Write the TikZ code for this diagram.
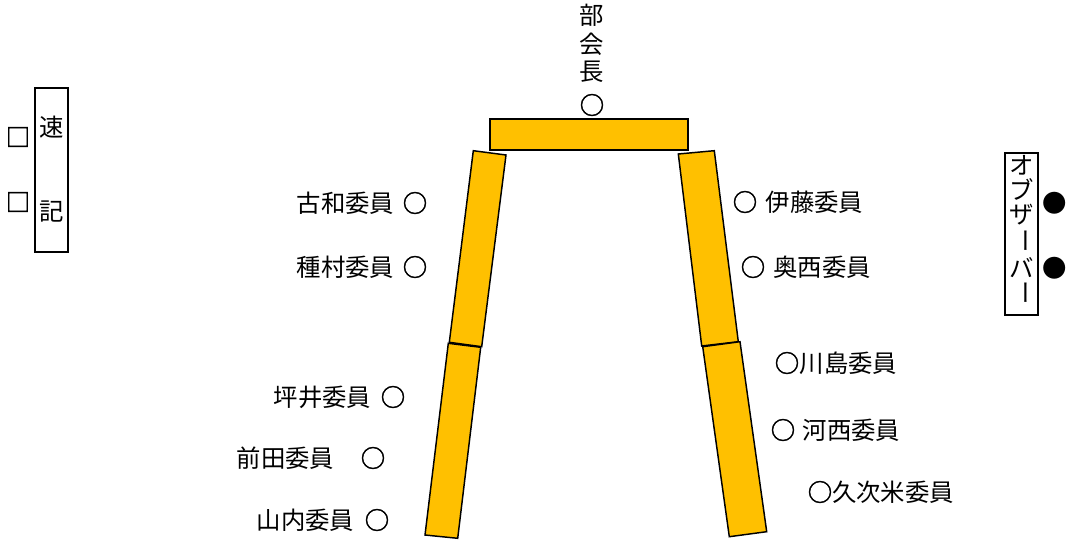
\documentclass[tikz,border=0pt]{standalone}
\usepackage{fontspec}
\setmainfont{Noto Sans CJK JP}
\newfontfamily\symfont{Noto Sans CJK JP}[FakeBold=2]
\definecolor{gold}{HTML}{FFC000}
\tikzset{
  bar/.style={fill=gold,draw=black,line width=1.1pt,line join=miter},
  frame/.style={draw=black,line width=1.4pt},
  lbl/.style={inner sep=0pt,font=\fontsize{18.3}{22}\selectfont},
  sym/.style={inner sep=0pt,font=\fontsize{18.3}{22}\symfont},
}
\begin{document}
\begin{tikzpicture}[x=0.75pt,y=-0.75pt]
\useasboundingbox (0,0) rectangle (1066,542);
% table bars
\draw[bar] (490,119) rectangle (688,150);
\draw[bar] (473.3,150.7) -- (506,155) -- (481.7,346.7) -- (449.3,342.3) -- cycle;
\draw[bar] (448.3,343.3) -- (480.7,347.3) -- (457.7,538.3) -- (425,535) -- cycle;
\draw[bar] (678.3,154) -- (714.3,150.7) -- (738.3,341.7) -- (701.7,346) -- cycle;
\draw[bar] (702.7,346.7) -- (740,341.7) -- (766.7,531.7) -- (729.3,536.7) -- cycle;
% chair
\node[lbl] (b1) at (592,15) {部};
\node[lbl] (b2) at (592,44) {会};
\node[lbl] (b3) at (592,72) {長};
\node[sym] (bc) at (592,105) {○};
% left side
\node[lbl] (l1) at (345.5,203) {古和委員};
\node[sym] (l1c) at (415,203) {○};
\node[lbl] (l2) at (345.5,267) {種村委員};
\node[sym] (l2c) at (415,267) {○};
\node[lbl] (l3) at (322.5,397) {坪井委員};
\node[sym] (l3c) at (393,397) {○};
\node[lbl] (l4) at (285.5,458) {前田委員};
\node[sym] (l4c) at (373,458) {○};
\node[lbl] (l5) at (305.5,520) {山内委員};
\node[sym] (l5c) at (377,520) {○};
% right side
\node[sym] (r1c) at (745,202) {○};
\node[lbl] (r1) at (814.5,202) {伊藤委員};
\node[sym] (r2c) at (753,267) {○};
\node[lbl] (r2) at (822,267) {奥西委員};
\node[sym] (r3c) at (787,363) {○};
\node[lbl] (r3) at (848.5,363) {川島委員};
\node[sym] (r4c) at (783,430) {○};
\node[lbl] (r4) at (851.5,430) {河西委員};
\node[sym] (r5c) at (820,492) {○};
\node[lbl] (r5) at (893,492) {久次米委員};
% stenographer
\draw[frame] (35,88) rectangle (68,252);
\node[lbl] (s1) at (52,127) {速};
\node[lbl] (s2) at (52,212) {記};
\node[sym] (sq1) at (18,137) {□};
\node[sym] (sq2) at (18,202) {□};
% observers
\draw[frame] (1005,153) rectangle (1038,315);
\node[lbl] (o1) at (1022,165) {オ};
\node[lbl] (o2) at (1022,189) {ブ};
\node[lbl] (o3) at (1022,215) {ザ};
\node[lbl,rotate=-90] (o4) at (1022,241) {ー};
\node[lbl] (o5) at (1022,268) {バ};
\node[lbl,rotate=-90] (o6) at (1022,293) {ー};
\node[lbl] (ob1) at (1055,203) {●};
\node[lbl] (ob2) at (1055,268) {●};
\end{tikzpicture}
\end{document}
